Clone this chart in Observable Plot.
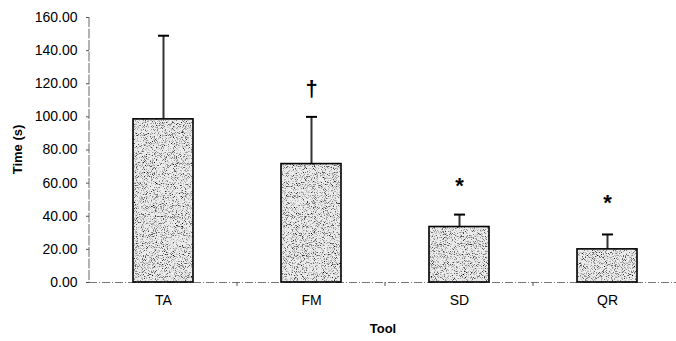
<!DOCTYPE html>
<html><head><meta charset="utf-8">
<script src="https://cdn.jsdelivr.net/npm/d3@7"></script>
<script src="https://cdn.jsdelivr.net/npm/@observablehq/plot@0.6"></script>
<style>body{margin:0;background:#fff;} svg{display:block;}</style>
</head><body><div id="chart"></div>
<script>
const tools = ["TA", "FM", "SD", "QR"];
const means = [98.5, 71.5, 33.5, 20.0];
const sds = [50.5, 28.5, 7.5, 9.0];
const marks = ["", "†", "*", "*"];
const markY = [null, 117, 58, 48];
const yTicks = [0, 20, 40, 60, 80, 100, 120, 140, 160];

const data = tools.map((t, i) => ({tool: t, mean: means[i], top: means[i] + sds[i], mark: marks[i], markY: markY[i]}));
const annot = data.filter(d => d.mark);

const capSymbol = {draw(ctx) { ctx.moveTo(-5.5, 0); ctx.lineTo(5.5, 0); }};

const plot = Plot.plot({
  width: 676, height: 341,
  marginLeft: 89, marginRight: 0, marginTop: 17, marginBottom: 59,
  style: {fontFamily: "'Liberation Sans', Arial, sans-serif", fontSize: "14px", color: "#000", background: "#fff"},
  x: {domain: tools, range: [89, 681], paddingInner: 0.595, paddingOuter: 0.2975, label: null},
  y: {domain: [0, 160], range: [282, 17], label: null},
  marks: [
    Plot.axisY({ticks: yTicks, tickFormat: d3.format(".2f"), tickSize: 3, tickPadding: 9, stroke: "#555", label: null}),
    Plot.axisX({tickSize: 0, tickPadding: 13, label: null}),
    Plot.ruleY([0], {stroke: "#777", strokeWidth: 1, strokeDasharray: "8,2,1,2"}),
    Plot.ruleX(data, {x: "tool", y1: "mean", y2: "top", stroke: "#333", strokeWidth: 2}),
    Plot.dot(data, {x: "tool", y: "top", symbol: capSymbol, stroke: "#000", strokeWidth: 2, fill: "none"}),
    Plot.barY(data, {x: "tool", y: "mean", fill: "url(#stip)", stroke: "#000", strokeWidth: 1.6}),
    Plot.text(annot, {x: "tool", y: "markY", text: "mark", fontSize: 22, fontWeight: "bold"})
  ]
});

const svg = d3.select(plot);
const defs = svg.insert("defs", ":first-child");
const f = defs.append("filter").attr("id", "noise").attr("x", 0).attr("y", 0).attr("width", 1).attr("height", 1);
f.append("feTurbulence").attr("type", "fractalNoise").attr("baseFrequency", 1.1).attr("numOctaves", 2).attr("seed", 7);
f.append("feColorMatrix").attr("type", "matrix").attr("values", "0 0 0 0 0  0 0 0 0 0  0 0 0 0 0  -3.0 0 0 0 1.45");
const pat = defs.append("pattern").attr("id", "stip").attr("patternUnits", "userSpaceOnUse").attr("width", 240).attr("height", 240);
pat.append("rect").attr("width", 240).attr("height", 240).attr("fill", "#ececec");
pat.append("rect").attr("width", 240).attr("height", 240).attr("fill", "#fff").attr("filter", "url(#noise)");

const xs = plot.scale("x"), ys = plot.scale("y");
const step = xs.step;
const y0 = ys.apply(0), yTop = ys.apply(160);
svg.append("line").attr("x1", 89).attr("x2", 89).attr("y1", yTop).attr("y2", y0)
  .attr("stroke", "#666").attr("stroke-width", 1).attr("stroke-dasharray", "10,1.5");
tools.slice(0, -1).forEach(t => {
  const bx = xs.apply(t) + xs.bandwidth + (step - xs.bandwidth) / 2;
  svg.append("line").attr("x1", bx).attr("x2", bx).attr("y1", y0).attr("y2", y0 + 4).attr("stroke", "#555");
});
svg.append("text").attr("transform", `translate(22,${(y0 + yTop) / 2}) rotate(-90)`)
  .attr("text-anchor", "middle").attr("font-weight", "bold").attr("font-size", 13).text("Time (s)");
svg.append("text").attr("x", 383).attr("y", 333).attr("text-anchor", "middle")
  .attr("font-weight", "bold").attr("font-size", 13).text("Tool");

document.getElementById("chart").appendChild(plot);
</script>
</body></html>
